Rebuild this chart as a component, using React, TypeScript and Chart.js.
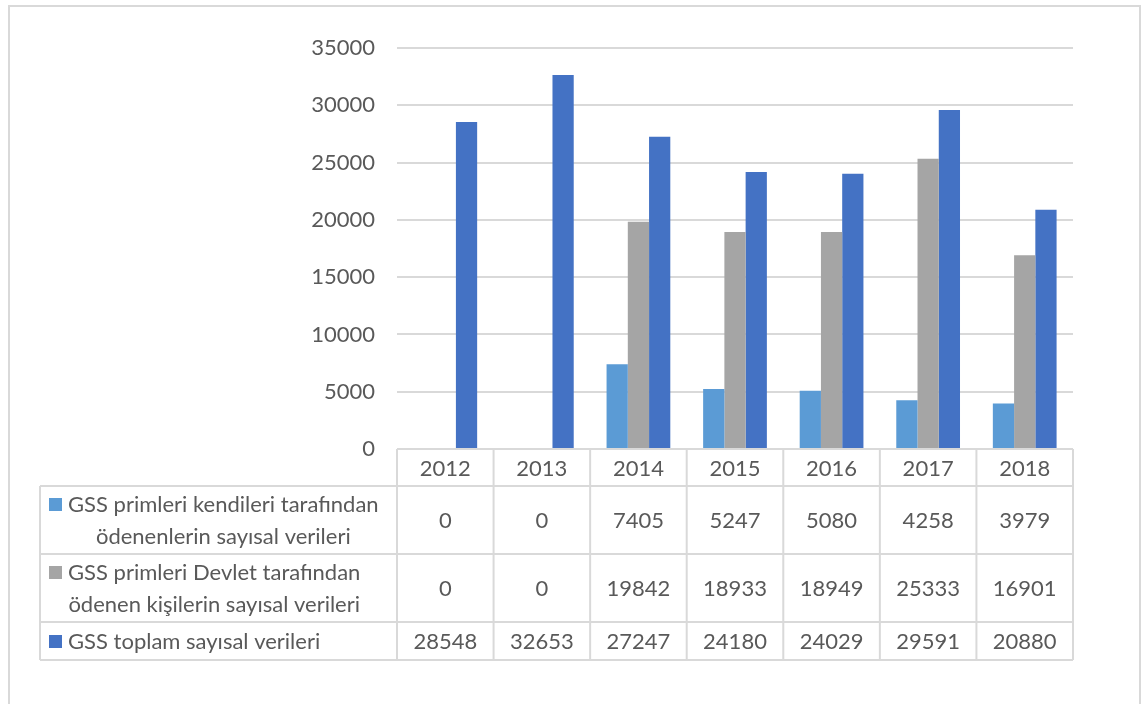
import React, { useEffect, useRef } from "react";
import { Chart, registerables } from "chart.js";

Chart.register(...registerables);

const years = ["2012", "2013", "2014", "2015", "2016", "2017", "2018"];
const kendileri = [0, 0, 7405, 5247, 5080, 4258, 3979];
const devlet = [0, 0, 19842, 18933, 18949, 25333, 16901];
const toplam = [28548, 32653, 27247, 24180, 24029, 29591, 20880];

const seriesNames = [
  "GSS primleri kendileri tarafından ödenenlerin sayısal verileri",
  "GSS primleri Devlet tarafından ödenen kişilerin sayısal verileri",
  "GSS toplam sayısal verileri",
];
const seriesLines = [
  ["GSS primleri kendileri tarafından", "ödenenlerin sayısal verileri"],
  ["GSS primleri Devlet tarafından", "ödenen kişilerin sayısal verileri"],
  ["GSS toplam sayısal verileri"],
];
const seriesColors = ["#5b9bd5", "#a5a5a5", "#4472c4"];
const yTicks = { min: 0, max: 35000, step: 5000 };

const FONT_SIZE = 22;
const FONT = `${FONT_SIZE}px Lato`;
const TEXT = "#595959";
const LINE = "#d9d9d9";

const tablePlugin = {
  id: "dataTable",
  afterDraw(chart: any) {
    const { ctx, chartArea } = chart;
    const xs = chart.scales.x;
    const n = chart.data.labels.length;
    const colW = (chartArea.right - chartArea.left) / n;
    const top = chartArea.bottom;
    const rowsY = [top, top + 37, top + 105, top + 173, top + 211];
    const tableLeft = 40;
    ctx.save();
    ctx.strokeStyle = LINE;
    ctx.lineWidth = 2;
    ctx.beginPath();
    ctx.moveTo(chartArea.left, rowsY[0]);
    ctx.lineTo(chartArea.right, rowsY[0]);
    for (let r = 1; r < rowsY.length; r++) {
      ctx.moveTo(tableLeft, rowsY[r]);
      ctx.lineTo(chartArea.right, rowsY[r]);
    }
    ctx.moveTo(tableLeft, rowsY[1]);
    ctx.lineTo(tableLeft, rowsY[4]);
    for (let i = 0; i <= n; i++) {
      const xx = chartArea.left + i * colW;
      ctx.moveTo(xx, rowsY[0]);
      ctx.lineTo(xx, rowsY[4]);
    }
    ctx.stroke();

    ctx.font = FONT;
    ctx.fillStyle = TEXT;
    ctx.textAlign = "center";
    ctx.textBaseline = "middle";
    for (let i = 0; i < n; i++) {
      const cx = xs.getPixelForValue(i);
      ctx.fillText(String(chart.data.labels[i]), cx, (rowsY[0] + rowsY[1]) / 2 + 1);
    }
    chart.data.datasets.forEach((ds: any, d: number) => {
      const cy = (rowsY[d + 1] + rowsY[d + 2]) / 2;
      for (let i = 0; i < n; i++) {
        const cx = xs.getPixelForValue(i);
        ctx.fillText(String(ds.data[i]), cx, cy + 1);
      }
      const lines = seriesLines[d];
      const lineH = 32;
      const firstW = ctx.measureText(lines[0]).width;
      const textX = 68;
      const center = textX + firstW / 2;
      const startY = cy - ((lines.length - 1) * lineH) / 2;
      ctx.fillStyle = ds.backgroundColor;
      ctx.fillRect(49, startY - 6, 13, 13);
      ctx.fillStyle = TEXT;
      lines.forEach((ln, k) => {
        ctx.fillText(ln, center, startY + k * lineH + 1);
      });
    });
    ctx.restore();
  },
};

export default function App() {
  const ref = useRef<HTMLCanvasElement>(null);
  useEffect(() => {
    const chart = new Chart(ref.current as HTMLCanvasElement, {
      type: "bar",
      data: {
        labels: years,
        datasets: [
          { label: seriesNames[0], data: kendileri, backgroundColor: seriesColors[0] },
          { label: seriesNames[1], data: devlet, backgroundColor: seriesColors[1] },
          { label: seriesNames[2], data: toplam, backgroundColor: seriesColors[2] },
        ],
      },
      options: {
        responsive: false,
        animation: false,
        layout: { padding: { left: 0, right: 68, top: 48, bottom: 255 } },
        datasets: { bar: { categoryPercentage: 0.66, barPercentage: 1 } },
        plugins: { legend: { display: false }, tooltip: { enabled: false } },
        scales: {
          x: { display: false },
          y: {
            min: yTicks.min,
            max: yTicks.max,
            afterFit: (s: any) => {
              s.width = 397;
            },
            ticks: {
              stepSize: yTicks.step,
              padding: 22,
              color: TEXT,
              font: { family: "Lato", size: FONT_SIZE },
              callback: (v: any) => String(v),
            },
            grid: { color: LINE, lineWidth: 2, drawTicks: false },
            border: { display: false },
          },
        },
      },
      plugins: [tablePlugin],
    });
    return () => chart.destroy();
  }, []);
  return (
    <div style={{ position: "absolute", left: 0, top: 0, width: 1141, height: 704, background: "#fff", overflow: "hidden" }}>
      <div
        style={{
          position: "absolute",
          left: 8,
          top: 5,
          width: 1133,
          height: 720,
          boxSizing: "border-box",
          border: "2px solid #d9d9d9",
        }}
      />
      <canvas ref={ref} width={1141} height={704} style={{ position: "absolute", left: 0, top: 0 }} />
    </div>
  );
}
